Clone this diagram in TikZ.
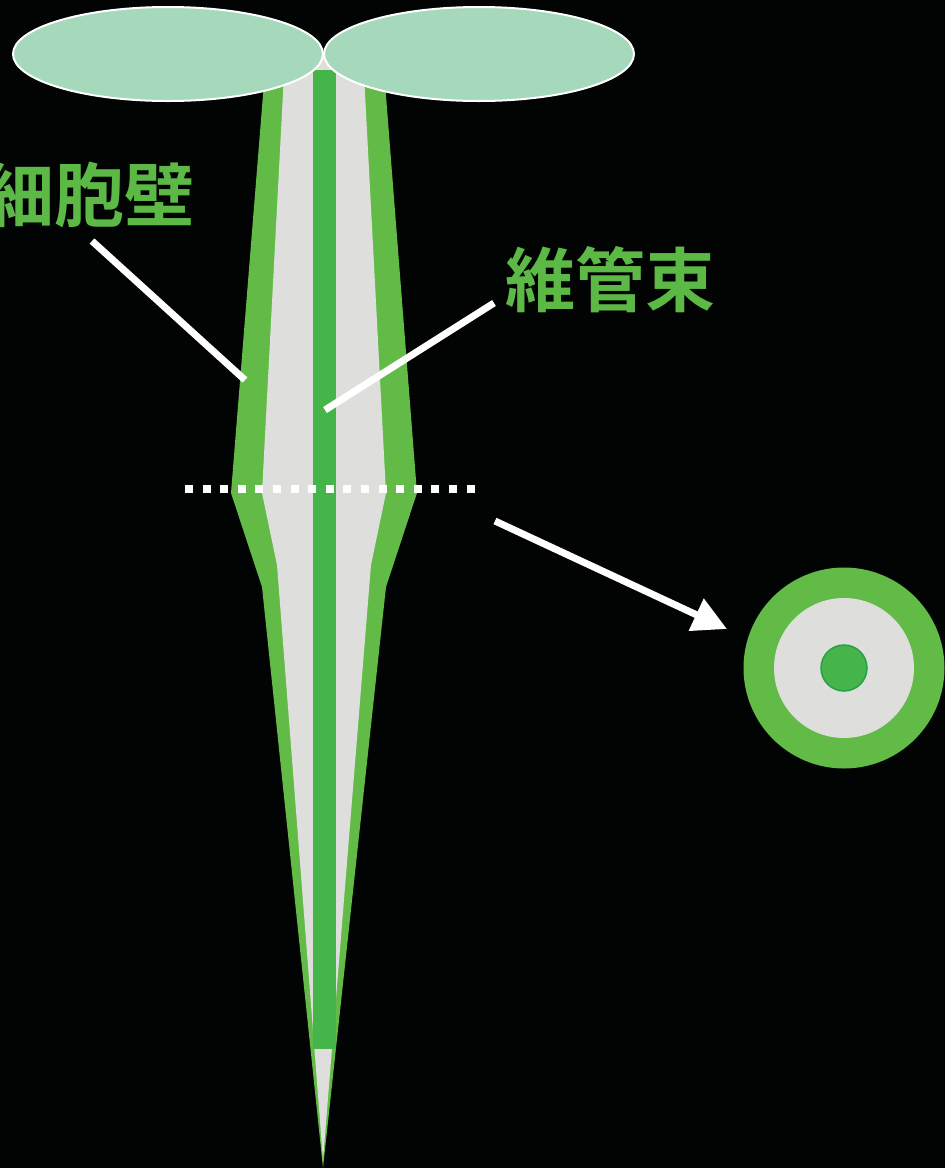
\documentclass[tikz,border=0pt]{standalone}
\usepackage{fontspec}
\newfontfamily\cjk[BoldFont={Noto Sans CJK JP Bold}]{Noto Sans CJK JP}
\usetikzlibrary{arrows.meta}
\definecolor{bgblack}{RGB}{2,3,3}
\definecolor{stemgreen}{RGB}{98,187,71}
\definecolor{veingreen}{RGB}{70,181,73}
\definecolor{veinedge}{RGB}{40,160,75}
\definecolor{cellgray}{RGB}{222,222,220}
\definecolor{leafgreen}{RGB}{166,217,188}
\definecolor{labelgreen}{RGB}{93,185,70}
\begin{document}
\begin{tikzpicture}[x=1pt, y=-1pt, line join=miter, >=stealth,
    label/.style={text=labelgreen, inner sep=0pt, font=\cjk\bfseries\fontsize{70}{70}\selectfont},
    pointer/.style={draw=white, line width=7pt}]
    \def\midx{323}\def\tipy{1168}
    \fill[bgblack] (0,0) rectangle (945,1168);
    \useasboundingbox (0,0) rectangle (945,1168);
    % stem: outer layer, tissue, vein
    \fill[stemgreen] (265,70)--(231,493)--(262,587)--(\midx,\tipy)--(386,587)--(417,493)--(384,70)--cycle;
    \fill[cellgray] (285,55)--(262,493)--(277,565)--(\midx,1160)--(371,565)--(386,493)--(363,55)--cycle;
    \fill[veingreen] (313,70) rectangle (336,1049);
    % leaves
    \draw[fill=leafgreen, draw=white, line width=2pt] (168,54) ellipse [x radius=155, y radius=47];
    \draw[fill=leafgreen, draw=white, line width=2pt] (479,54) ellipse [x radius=155, y radius=47];
    % labels
    \node[label, anchor=east] (wall) at (195,195) {細胞壁};
    \node[label, anchor=west] (bundle) at (505,280) {維管束};
    \coordinate (wallA) at (92,241);
    \coordinate (wallB) at (245,380);
    \coordinate (bundleA) at (494,303);
    \coordinate (bundleB) at (325,410);
    \draw[pointer] (wallA)--(wallB);
    \draw[pointer] (bundleA)--(bundleB);
    % cut line and cross section
    \draw[white, line width=8pt, dash pattern=on 8pt off 9.6pt] (185,489)--(476,489);
    \node[circle, fill=stemgreen, minimum size=201pt, inner sep=0pt] (section) at (844,668) {};
    \node[circle, fill=cellgray, minimum size=140pt, inner sep=0pt] (tissue) at (section.center) {};
    \node[circle, fill=veingreen, draw=veinedge, line width=1.5pt, minimum size=46pt, inner sep=0pt] (vein) at (section.center) {};
    \coordinate (cutA) at (495,521);
    \coordinate (cutB) at (727,629);
    \draw[white, line width=7pt, -{Triangle[length=34pt, width=34pt]}] (cutA)--(cutB);
\end{tikzpicture}
\end{document}
